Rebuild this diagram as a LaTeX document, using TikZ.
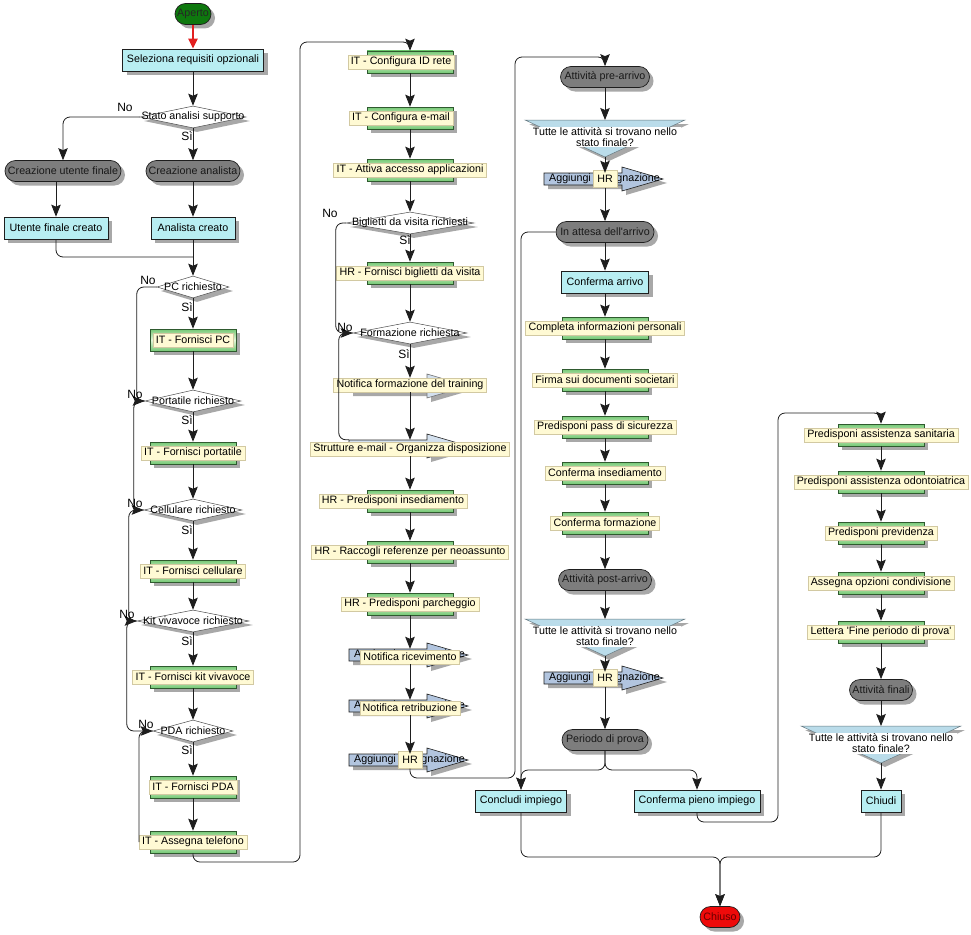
\documentclass[tikz,border=0pt]{standalone}
\usepackage{fontspec}
\setmainfont{Liberation Sans}[Ligatures=TeXOff]
\usetikzlibrary{arrows.meta,shapes.geometric,shapes.misc,shadows,calc}
\definecolor{cyanbox}{HTML}{B8EEF2}
\definecolor{pillgray}{HTML}{7D7D7D}
\definecolor{lblyellow}{HTML}{FFFAD4}
\definecolor{lblborder}{HTML}{D2C9A2}
\definecolor{grdark}{HTML}{2F5A2F}
\definecolor{grband}{HTML}{74C874}
\definecolor{grlight}{HTML}{E4F5D8}
\definecolor{bluearr}{HTML}{B2C5DF}
\definecolor{lightarr}{HTML}{D3E0EE}
\definecolor{funnelblue}{HTML}{BADCEA}
\definecolor{shadowgray}{HTML}{A8A8A8}
\definecolor{startgreen}{HTML}{0E780E}
\definecolor{endred}{HTML}{EE0A0A}
\definecolor{lineclr}{HTML}{1E1E1E}
\definecolor{redline}{HTML}{E22020}
\newcommand{\fnt}{\fontsize{10.7}{12}\selectfont}
\tikzset{
  shd/.style={drop shadow={shadow xshift=4pt,shadow yshift=-4pt,fill=shadowgray,opacity=1}},
  cbox/.style={rectangle,draw=lineclr,line width=0.7pt,fill=cyanbox,minimum height=22pt,inner xsep=2pt,shd},
  pill/.style={rounded rectangle,draw=lineclr,line width=0.7pt,fill=pillgray,minimum height=21pt,inner xsep=2pt,text=black!90,shd},
  taskbox/.style={rectangle,draw=grdark,line width=0.6pt,top color=grband,bottom color=grband,middle color=grlight,minimum width=86pt,minimum height=22pt,inner sep=0pt,shd},
  lbl/.style={rectangle,fill=lblyellow,draw=lblborder,line width=0.4pt,inner xsep=3pt,inner ysep=0pt,minimum height=14pt},
  hrlbl/.style={lbl,minimum height=17pt,inner xsep=4.5pt},
  dia/.style={diamond,draw=black!70,line width=0.5pt,fill=white,minimum height=22pt,inner sep=0pt,shd},
  dtext/.style={inner sep=0pt},
  yn/.style={inner sep=0pt,font=\fontsize{12}{13}\selectfont},
  conn/.style={draw=lineclr,line width=0.8pt,rounded corners=7pt,-{Stealth[length=12pt,width=9.5pt,inset=2pt]}},
  lineonly/.style={draw=lineclr,line width=0.8pt,rounded corners=7pt},
}
\newcommand{\tasknode}[4][0]{%
  \node[taskbox] (#2) at (#3) {};
  \node[lbl] (#2-l) at ($(#2)+(#1,0)$) {#4};}
\newcommand{\decision}[4]{%
  \node[dia,minimum width=#3pt] (#1) at (#2) {};
  \node[dtext] (#1-t) at (#1) {#4};}
\newcommand{\funnelnode}[3]{%
  \begin{scope}[shift={(#2,#3)}]
    \fill[shadowgray] (-76,4) -- (84,4) -- (4,41) -- cycle;
    \filldraw[fill=funnelblue,draw=funnelblue!55!black,line width=0.5pt] (-80,0) -- (80,0) -- (0,37) -- cycle;
    \coordinate (#1-top) at (0,0);
    \coordinate (#1-tip) at (0,37);
    \node[fill=white,inner xsep=4pt,inner ysep=1pt,align=center,font=\fontsize{10.7}{11}\selectfont] (#1) at (0,17) {Tutte le attività si trovano nello\\stato finale?};
  \end{scope}}
\newcommand{\arrownode}[6]{%
  \begin{scope}[shift={(#2,#3)}]
    \fill[shadowgray] (-57,-2) -- (21,-2) -- (21,-8) -- (62,4) -- (21,16) -- (21,10) -- (-57,10) -- cycle;
    \filldraw[fill=#4,draw=#5,line width=0.6pt] (-61,-6) -- (17,-6) -- (17,-12) -- (58,0) -- (17,12) -- (17,6) -- (-61,6) -- cycle;
    \node[inner sep=0pt,minimum width=78pt,minimum height=12pt] (#1) at (-22,0) {};
    \node[anchor=west,inner sep=0pt] (#1-t) at (-56,0) {#6};
  \end{scope}}
\begin{document}
\begin{tikzpicture}[x=1pt,y=-1pt,every node/.style={font=\fnt}]
\fill[white] (0,0) rectangle (971,934);
\useasboundingbox (0,0) rectangle (971,934);
% ---------- column 1
\node[pill,fill=startgreen,minimum width=40pt,text=black!85] (start) at (193,14) {Aperto};
\node[cbox,minimum width=141pt] (sel) at (193,60) {Seleziona requisiti opzionali};
\decision{stato}{193,117}{106}{Stato analisi supporto}
\node[pill,minimum width=120pt] (cuf) at (63,171) {Creazione utente finale};
\node[pill,minimum width=98pt] (ca) at (193,171) {Creazione analista};
\node[cbox,minimum width=104pt] (ufc) at (56,228) {Utente finale creato};
\node[cbox,minimum width=84pt] (ac) at (193,228) {Analista creato};
\coordinate (j1) at (193,257);
\decision{pc}{193,287}{72}{PC richiesto}
\tasknode{fpc}{193,340}{IT - Fornisci PC}
\decision{port}{193,401}{96}{Portatile richiesto}
\tasknode{fport}{193,453}{IT - Fornisci portatile}
\decision{cell}{193,510}{98}{Cellulare richiesto}
\tasknode{fcell}{193,571}{IT - Fornisci cellulare}
\decision{kit}{193,621}{112}{Kit vivavoce richiesto}
\tasknode{fkit}{193,677}{IT - Fornisci kit vivavoce}
\decision{pda}{193,731}{80}{PDA richiesto}
\tasknode{fpda}{193,787}{IT - Fornisci PDA}
\tasknode{tel}{193,842}{IT - Assegna telefono}
\draw[draw=redline,line width=2.4pt,-{Triangle[length=10pt,width=9pt]}] (start.south) -- (sel.north);
\draw[conn] (sel.south) -- (stato.north);
\draw[conn] (stato.west) -| (cuf.north);
\draw[conn] (stato.south) -- (ca.north);
\draw[conn] (cuf.south -| ufc.north) -- (ufc.north);
\draw[conn] (ca.south) -- (ac.north);
\draw[lineonly] (ufc.south) |- (j1);
\draw[conn] (ac.south) -- (pc.north);
\draw[conn] (pc.south) -- (fpc.north);
\draw[conn] (pc.west) -- ++(-20,0) |- (port.west);
\draw[conn] (fpc.south) -- (port.north);
\draw[conn] (port.south) -- (fport.north);
\draw[conn] (port.west) -- ++(-11,0) |- (cell.west);
\draw[conn] (fport.south) -- (cell.north);
\draw[conn] (cell.south) -- (fcell.north);
\draw[conn] (cell.west) -- ++(-15,0) |- (kit.west);
\draw[conn] (fcell.south) -- (kit.north);
\draw[conn] (kit.south) -- (fkit.north);
\draw[conn] (kit.west) -- ++(-10,0) |- (pda.west);
\draw[conn] (fkit.south) -- (pda.north);
\draw[conn] (pda.south) -- (fpda.north);
\draw[lineonly] (pda.west) -| (tel-l.west);
\draw[conn] (fpda.south) -- (tel.north);
\node[yn] (stato-no) at (125,107) {No};
\node[yn] (stato-si) at (187,136) {Sì};
\node[yn] (pc-no) at (148,280) {No};
\node[yn] (pc-si) at (187,307) {Sì};
\node[yn] (port-no) at (135,394) {No};
\node[yn] (port-si) at (187,420) {Sì};
\node[yn] (cell-no) at (135,503) {No};
\node[yn] (cell-si) at (187,530) {Sì};
\node[yn] (kit-no) at (127,614) {No};
\node[yn] (kit-si) at (187,641) {Sì};
\node[yn] (pda-no) at (146,724) {No};
\node[yn] (pda-si) at (187,750) {Sì};
% ---------- column 2
\coordinate (c12a) at (300,862);
\coordinate (c12b) at (300,42);
\tasknode[-9]{cfgid}{410,62}{IT - Configura ID rete}
\tasknode[-9]{cfgmail}{410,118}{IT - Configura e-mail}
\tasknode{attiva}{410,170}{IT - Attiva accesso applicazioni}
\decision{bigl}{410,223}{128}{Biglietti da visita richiesti}
\tasknode{fbigl}{410,273}{HR - Fornisci biglietti da visita}
\decision{form}{410,333}{114}{Formazione richiesta}
\arrownode{notform}{410}{386}{lightarr}{black!55}{}
\node[lbl] (notform-l) at (410,385) {Notifica formazione del training};
\arrownode{strut}{410}{446}{lightarr}{black!85}{}
\node[lbl] (strut-l) at (410,449) {Strutture e-mail - Organizza disposizione};
\tasknode[-17]{predins}{410,501}{HR - Predisponi insediamento}
\tasknode{racc}{410,552}{HR - Raccogli referenze per neoassunto}
\tasknode{parch}{410,604}{HR - Predisponi parcheggio}
\arrownode{notric}{410}{655}{bluearr}{lineclr}{Aggiungi assegnazione}
\node[lbl] (notric-l) at (410,657) {Notifica ricevimento};
\arrownode{notretr}{410}{706}{bluearr}{lineclr}{Aggiungi assegnazione}
\node[lbl] (notretr-l) at (410,708) {Notifica retribuzione};
\arrownode{agg2}{410}{760}{bluearr}{lineclr}{Aggiungi assegnazione}
\node[hrlbl] (agg2-l) at (410,760) {HR};
\coordinate (c23a) at (515,778);
\coordinate (c23b) at (515,57);
\draw[conn] (tel.south) |- (c12a) -- (c12b) -| (cfgid.north);
\draw[conn] (cfgid.south) -- (cfgmail.north);
\draw[conn] (cfgmail.south) -- (attiva.north);
\draw[conn] (attiva.south) -- (bigl.north);
\draw[conn] (bigl.south) -- (fbigl.north);
\draw[conn] (bigl.west) -- ++(-10,0) |- (form.west);
\draw[conn] (fbigl.south) -- (form.north);
\draw[conn] (form.south) -- (notform-l.north);
\draw[lineonly] (form.west) -- ++(-14,0) |- (strut.north west);
\draw[conn] (notform-l.south) -- (notform-l.south |- strut.north);
\draw[conn] (strut-l.south) -- (predins.north);
\draw[conn] (predins.south) -- (racc.north);
\draw[conn] (racc.south) -- (parch.north);
\draw[conn] (parch.south) -- (parch.south |- notric.north);
\draw[conn] (notric-l.south) -- (notric-l.south |- notretr.north);
\draw[conn] (notretr-l.south) -- (notretr-l.south |- agg2.north);
\node[yn] (bigl-no) at (330,213) {No};
\node[yn] (bigl-si) at (405,240) {Sì};
\node[yn] (form-no) at (345,327) {No};
\node[yn] (form-si) at (404,354) {Sì};
% ---------- column 3
\node[pill,minimum width=93pt] (pre) at (605,77) {Attività pre-arrivo};
\funnelnode{fun1}{605}{120}
\arrownode{agg3a}{605}{179}{bluearr}{lineclr}{Aggiungi assegnazione}
\node[hrlbl] (agg3a-l) at (605,179) {HR};
\node[pill,minimum width=102pt] (attesa) at (605,232) {In attesa dell'arrivo};
\node[cbox,minimum width=87pt] (confarr) at (605,282) {Conferma arrivo};
\tasknode{completa}{605,328}{Completa informazioni personali}
\tasknode{firma}{605,380}{Firma sui documenti societari}
\tasknode{pass}{605,427}{Predisponi pass di sicurezza}
\tasknode{confins}{605,473}{Conferma insediamento}
\tasknode{confform}{605,523}{Conferma formazione}
\node[pill,minimum width=97pt] (post) at (605,580) {Attività post-arrivo};
\funnelnode{fun2}{605}{619}
\arrownode{agg3b}{605}{678}{bluearr}{lineclr}{Aggiungi assegnazione}
\node[hrlbl] (agg3b-l) at (605,678) {HR};
\node[pill,minimum width=90pt] (periodo) at (605,740) {Periodo di prova};
\coordinate (split) at (605,770);
\node[cbox,minimum width=91pt] (concl) at (521,801) {Concludi impiego};
\node[cbox,minimum width=126pt] (pieno) at (697,801) {Conferma pieno impiego};
\coordinate (c34a) at (778,822);
\coordinate (c34b) at (778,413);
\coordinate (merge) at (720,857);
\draw[conn] (agg2-l.south) |- (c23a) -- (c23b) -| (pre.north);
\draw[conn] (pre.south) -- (fun1-top);
\draw[conn] (fun1-tip) -- (fun1-tip |- agg3a.north);
\draw[conn] (agg3a-l.south) -- (attesa.north);
\draw[conn] (attesa.south) -- (confarr.north);
\draw[conn] (attesa.west) -| (concl.north);
\draw[conn] (confarr.south) -- (completa.north);
\draw[conn] (completa.south) -- (firma.north);
\draw[conn] (firma.south) -- (pass.north);
\draw[conn] (pass.south) -- (confins.north);
\draw[conn] (confins.south) -- (confform.north);
\draw[conn] (confform.south) -- (post.north);
\draw[conn] (post.south) -- (fun2-top);
\draw[conn] (fun2-tip) -- (fun2-tip |- agg3b.north);
\draw[conn] (agg3b-l.south) -- (periodo.north);
\draw[conn] (periodo.south) -- (split) -| (concl.north);
\draw[conn] (periodo.south) -- (split) -| (pieno.north);
% ---------- column 4
\tasknode{san}{881,435}{Predisponi assistenza sanitaria}
\tasknode{odo}{881,482}{Predisponi assistenza odontoiatrica}
\tasknode{prev}{881,533}{Predisponi previdenza}
\tasknode{cond}{881,583}{Assegna opzioni condivisione}
\tasknode{lettera}{881,632}{Lettera 'Fine periodo di prova'}
\node[pill,minimum width=67pt] (finali) at (881,690) {Attività finali};
\funnelnode{fun3}{881}{726}
\node[cbox,minimum width=40pt] (chiudi) at (881,801) {Chiudi};
\node[pill,fill=endred,minimum width=44pt,text=red!40!black] (chiuso) at (720,917) {Chiuso};
\draw[conn] (pieno.south) |- (c34a) -- (c34b) -| (san.north);
\draw[conn] (san.south) -- (odo.north);
\draw[conn] (odo.south) -- (prev.north);
\draw[conn] (prev.south) -- (cond.north);
\draw[conn] (cond.south) -- (lettera.north);
\draw[conn] (lettera.south) -- (finali.north);
\draw[conn] (finali.south) -- (fun3-top);
\draw[conn] (fun3-tip) -- (chiudi.north);
\draw[conn] (concl.south) |- (merge) -- (chiuso.north);
\draw[conn] (chiudi.south) |- (merge) -- (chiuso.north);
\end{tikzpicture}
\end{document}
